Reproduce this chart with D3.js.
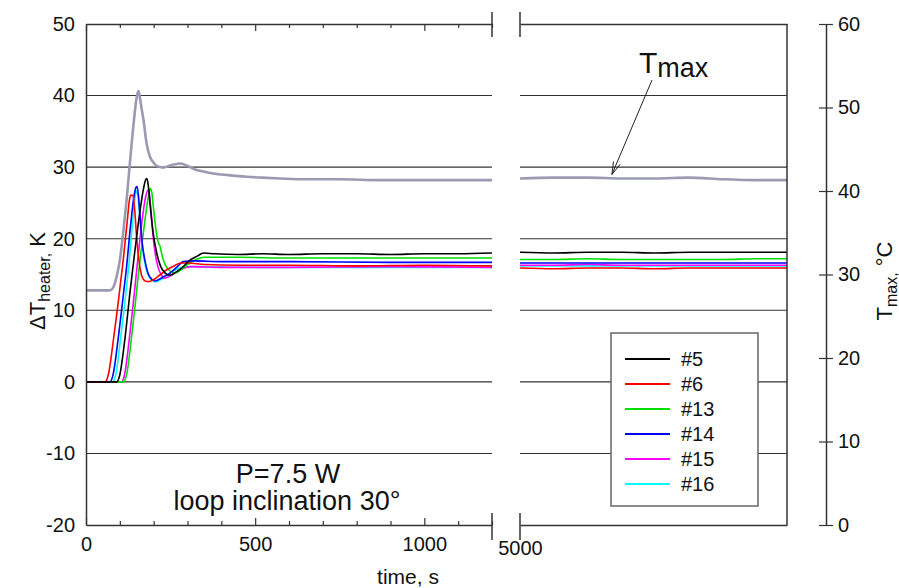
<!DOCTYPE html>
<html>
<head>
<meta charset="utf-8">
<script src="https://cdn.jsdelivr.net/npm/d3@7/dist/d3.min.js"></script>
<style>
  html, body { margin: 0; padding: 0; background: #fff; }
  svg { display: block; font-family: "Liberation Sans", Arial, sans-serif; }
</style>
</head>
<body>
<svg id="chart" width="899" height="588"></svg>
<script>
// ---- data -------------------------------------------------------------
// heater temperature rise, K  (time in s; early part 0..1200 s, late part from 5000 s)
const dt5 = [[0,0],[91,0],[100,1],[115,6],[130,12.5],[145,18.5],[160,24],[170,27],[176,28.2],[180,28.4],[184,27.5],[190,24.5],[198,21],[209,18],[220,16.2],[234,15.2],[248,14.9],[265,15.3],[285,16],[307,17],[330,17.6],[347,18],[380,17.9],[450,17.8],[520,17.9],[600,17.8],[700,17.9],[800,17.9],[900,17.8],[1000,17.9],[1100,17.9],[1200,18.0],
  [5000,18.1],[5100,18.0],[5200,18.1],[5300,18.1],[5400,18.0],[5500,18.1],[5600,18.1],[5700,18.1],[5790,18.1]];
const dt6 = [[0,0],[56,0],[66,1],[80,5.5],[95,11],[110,17],[122,22.5],[129,25.6],[133,26.1],[139,26],[144,24],[150,20],[157,16.8],[165,14.8],[175,14.1],[186,14.0],[200,14.3],[220,15],[240,15.7],[260,16.2],[280,16.6],[300,16.6],[350,16.4],[450,16.3],[600,16.3],[800,16.2],[1000,16.3],[1200,16.2],
  [5000,15.9],[5100,15.8],[5200,15.9],[5300,15.9],[5400,15.8],[5500,15.9],[5600,15.9],[5700,15.9],[5790,15.9]];
const dt13 = [[0,0],[110,0],[120,1],[134,6],[148,12],[162,18],[174,22.5],[184,25.8],[190,27],[194,26.6],[199,24.5],[206,21.5],[213,19.6],[219,18.9],[226,17.4],[236,16.2],[248,15.5],[263,15.2],[280,15.6],[300,16.4],[325,17.1],[350,17.4],[450,17.4],[600,17.3],[800,17.3],[1000,17.3],[1200,17.3],
  [5000,17.1],[5100,17.1],[5200,17.2],[5300,17.1],[5400,17.1],[5500,17.1],[5600,17.1],[5700,17.2],[5790,17.2]];
const dt14 = [[0,0],[71,0],[80,1],[95,6],[110,12],[120,16.1],[132,22],[142,26],[148,27.2],[151,27.3],[155,26],[160,23],[166,19.5],[174,17],[183,15.2],[195,14.3],[204,14.1],[215,14.3],[230,14.7],[248,15.2],[268,16],[288,16.8],[320,16.9],[400,16.8],[600,16.8],[900,16.7],[1200,16.7],
  [5000,16.6],[5100,16.6],[5200,16.6],[5300,16.6],[5400,16.6],[5500,16.6],[5600,16.6],[5700,16.6],[5790,16.6]];
const dt15 = [[0,0],[105,0],[114,1],[128,6],[142,12],[155,18],[167,23],[177,26],[183,26.8],[187,26.3],[192,24],[198,20.5],[205,17.8],[213,16],[222,15],[233,14.5],[245,14.7],[262,15.2],[285,15.8],[310,16.1],[400,16.0],[600,16.0],[900,16.1],[1200,16.0],
  [5000,16.3],[5100,16.3],[5200,16.4],[5300,16.3],[5400,16.3],[5500,16.3],[5600,16.3],[5700,16.3],[5790,16.3]];
const dt16 = [[0,0],[78,0],[88,1],[102,6],[117,12],[128,17],[138,22.5],[145,25.8],[149,26.7],[153,26.2],[158,23.5],[165,19.5],[173,16.8],[183,15],[195,14.2],[208,14.0],[222,14.3],[240,14.9],[262,15.6],[285,16],[320,16.1],[500,16.0],[800,16.0],[1200,16.0],
  [5000,16.2],[5100,16.2],[5200,16.2],[5300,16.2],[5400,16.2],[5500,16.2],[5600,16.2],[5700,16.2],[5790,16.2]];

// maximum temperature, °C (right axis)
const tmax = [[0,28.1],[71,28.1],[81,28.5],[92,30],[100,31.7],[110,35],[120,38.9],[130,43.5],[140,47.8],[150,51.3],[155,52.0],[160,51],[165,49.7],[170,48.5],[179,45.7],[189,44.1],[200,43.4],[209,43.0],[228,42.8],[245,43.0],[262,43.2],[278,43.3],[295,43.1],[320,42.6],[350,42.3],[376,42.1],[420,41.9],[475,41.7],[520,41.6],[573,41.5],[650,41.4],[750,41.4],[869,41.3],[1000,41.3],[1100,41.3],[1200,41.3],
  [5000,41.5],[5100,41.6],[5200,41.6],[5300,41.5],[5400,41.5],[5500,41.6],[5600,41.4],[5700,41.3],[5790,41.3]];

const seriesNames = ["#5", "#6", "#13", "#14", "#15", "#16"];
const seriesData = [dt5, dt6, dt13, dt14, dt15, dt16];
const seriesColors = ["#000000", "#ff0000", "#00e000", "#0000ff", "#ff00ff", "#00ffff"];

const leftTicks = [-20, -10, 0, 10, 20, 30, 40, 50];
const rightTicks = [0, 10, 20, 30, 40, 50, 60];
const gridValues = [-10, 0, 10, 20, 30, 40];
const timeMinor = d3.range(0, 1201, 100);
const timeLabels = [0, 500, 1000];
const earlyDomain = [0, 1200];
const lateDomain = [5000, 5790];

// ---- layout -----------------------------------------------------------
const svg = d3.select("#chart");
const FONT = '"Liberation Sans", Arial, sans-serif';
const AX = "#333";
const plain = d => String(d);   // hyphen minus, no thousands separator

const xL = d3.scaleLinear().domain(earlyDomain).range([86, 492]);
const xR = d3.scaleLinear().domain(lateDomain).range([520, 787]);
const yL = d3.scaleLinear().domain([-20, 50]).range([525, 24]);
const yT = d3.scaleLinear().domain([0, 60]).range([525, 24]);
const plotTop = yL.range()[1], plotBottom = yL.range()[0];

const panels = [
  { x: xR, split: d => d[0] >= 5000, id: "late" },
  { x: xL, split: d => d[0] <= 1200, id: "early" }
];

// clipping per panel
const defs = svg.append("defs");
panels.forEach(p => {
  defs.append("clipPath").attr("id", "clip-" + p.id)
    .append("rect")
    .attr("x", p.x.range()[0]).attr("y", plotTop)
    .attr("width", p.x.range()[1] - p.x.range()[0]).attr("height", plotBottom - plotTop);
});

// grid lines
panels.forEach(p => {
  svg.append("g").selectAll("line").data(gridValues).join("line")
    .attr("x1", p.x.range()[0]).attr("x2", p.x.range()[1])
    .attr("y1", d => yL(d)).attr("y2", d => yL(d))
    .attr("stroke", AX).attr("stroke-width", 1.1);
});

// curves
const lineDT = x => d3.line().x(d => x(d[0])).y(d => yL(d[1])).curve(d3.curveMonotoneX);
const lineT = x => d3.line().x(d => x(d[0])).y(d => yT(d[1])).curve(d3.curveMonotoneX);

panels.forEach(p => {
  const g = svg.append("g").attr("clip-path", `url(#clip-${p.id})`);
  g.append("path").datum(tmax.filter(p.split))
    .attr("d", lineT(p.x)).attr("fill", "none")
    .attr("stroke", "#9a9ab2").attr("stroke-width", 2.6);
  // drawing order keeps #5 on top
  const order = [5, 4, 2, 3, 1, 0];
  order.forEach(i => {
    g.append("path").datum(seriesData[i].filter(p.split))
      .attr("d", lineDT(p.x)).attr("fill", "none")
      .attr("stroke", seriesColors[i]).attr("stroke-width", 1.6);
  });
});

// ---- axes -------------------------------------------------------------
// bottom time axis, early part
const gxB = svg.append("g").attr("transform", `translate(0,${plotBottom})`)
  .call(d3.axisBottom(xL).tickValues(timeMinor).tickSizeInner(-4).tickSizeOuter(0).tickPadding(12)
    .tickFormat(d => timeLabels.includes(d) ? plain(d) : ""));
gxB.selectAll(".tick line").filter(d => d % 500 === 0).attr("y2", -7);
// top edge, early part
const gxT = svg.append("g").attr("transform", `translate(0,${plotTop})`)
  .call(d3.axisTop(xL).tickValues(timeMinor).tickSizeInner(-4).tickSizeOuter(0).tickFormat(""));
gxT.selectAll(".tick line").filter(d => d % 500 === 0).attr("y2", 7);

// late part: only the start label
const gxR = svg.append("g").attr("transform", `translate(0,${plotBottom})`)
  .call(d3.axisBottom(xR).tickValues([5000]).tickFormat(plain).tickSizeInner(0).tickSizeOuter(0).tickPadding(16));
svg.append("g").attr("transform", `translate(0,${plotTop})`)
  .call(d3.axisTop(xR).tickValues([]).tickSizeOuter(0));

// left axis
const gyL = svg.append("g").attr("transform", `translate(${xL.range()[0]},0)`)
  .call(d3.axisLeft(yL).tickValues(leftTicks).tickFormat(plain).tickSize(0).tickPadding(11));

// right frame edge of the late part
svg.append("line")
  .attr("x1", xR.range()[1]).attr("x2", xR.range()[1])
  .attr("y1", plotTop).attr("y2", plotBottom)
  .attr("stroke", AX).attr("stroke-width", 1.5);

// Tmax axis
const gyT = svg.append("g").attr("transform", "translate(826,0)")
  .call(d3.axisRight(yT).tickValues(rightTicks).tickFormat(plain).tickSizeInner(7).tickSizeOuter(0).tickPadding(5));
gyT.selectAll(".tick line").attr("x1", -7);

[gxB, gxT, gxR, gyL, gyT].forEach(g => {
  g.selectAll(".tick line").attr("stroke", AX).attr("stroke-width", 1.2);
  g.selectAll(".tick text").attr("font-family", FONT).attr("font-size", 20).attr("fill", "#111");
});
svg.selectAll(".domain").attr("stroke", AX).attr("stroke-width", 1.5);

// axis break marks
[xL(earlyDomain[1]), xR(lateDomain[0])].forEach(bx => {
  [[plotTop - 12, plotTop + 13], [plotBottom - 12, plotBottom + 15]].forEach(([a, b]) => {
    svg.append("line").attr("x1", bx).attr("x2", bx).attr("y1", a).attr("y2", b)
      .attr("stroke", AX).attr("stroke-width", 1.5);
  });
});

// axis titles
svg.append("text").attr("x", 408).attr("y", 584).attr("text-anchor", "middle")
  .attr("font-family", FONT).attr("font-size", 21).attr("fill", "#111").text("time, s");

const tl = svg.append("text").attr("transform", "translate(45,281) rotate(-90)")
  .attr("text-anchor", "middle").attr("font-family", FONT).attr("font-size", 22).attr("fill", "#111");
tl.append("tspan").text("ΔT");
tl.append("tspan").attr("font-size", 16).attr("dy", 5).text("heater,");
tl.append("tspan").attr("dy", -5).text(" K");

const tr = svg.append("text").attr("transform", "translate(892,281) rotate(-90)")
  .attr("text-anchor", "middle").attr("font-family", FONT).attr("font-size", 22).attr("fill", "#111");
tr.append("tspan").text("T");
tr.append("tspan").attr("font-size", 16).attr("dy", 5).text("max,");
tr.append("tspan").attr("dy", -5).text(" °C");

// ---- annotations ------------------------------------------------------
const note = svg.append("g").attr("font-family", FONT).attr("fill", "#111").attr("text-anchor", "middle");
note.append("text").attr("x", 288).attr("y", 483).attr("font-size", 27).text("P=7.5 W");
note.append("text").attr("x", 287).attr("y", 510).attr("font-size", 27).text("loop inclination 30°");

// Tmax label with arrow pointing at the late-part curve
const tipX = xR(5272), tipY = yT(41.5) - 4;
const lab = svg.append("text").attr("x", 639).attr("y", 73)
  .attr("font-family", FONT).attr("fill", "#111");
lab.append("tspan").attr("font-size", 30).text("T");
lab.append("tspan").attr("font-size", 27).attr("dy", 4).text("max");
const sx = 652, sy = 80;
svg.append("line").attr("x1", sx).attr("y1", sy).attr("x2", tipX).attr("y2", tipY)
  .attr("stroke", "#222").attr("stroke-width", 1);
const ang = Math.atan2(tipY - sy, tipX - sx);
[0.28, -0.28].forEach(da => {
  svg.append("line").attr("x1", tipX).attr("y1", tipY)
    .attr("x2", tipX - 13 * Math.cos(ang + da)).attr("y2", tipY - 13 * Math.sin(ang + da))
    .attr("stroke", "#222").attr("stroke-width", 1);
});

// legend
const lg = svg.append("g");
lg.append("rect").attr("x", 611).attr("y", 333).attr("width", 147).attr("height", 173)
  .attr("fill", "#fff").attr("stroke", "#666").attr("stroke-width", 1.5);
seriesNames.forEach((n, i) => {
  const yy = 359 + i * 25;
  lg.append("line").attr("x1", 625).attr("x2", 670).attr("y1", yy).attr("y2", yy)
    .attr("stroke", seriesColors[i]).attr("stroke-width", 1.8);
  lg.append("text").attr("x", 681).attr("y", yy).attr("dy", "0.36em")
    .attr("font-family", FONT).attr("font-size", 20).attr("fill", "#111").text(n);
});
</script>
</body>
</html>
